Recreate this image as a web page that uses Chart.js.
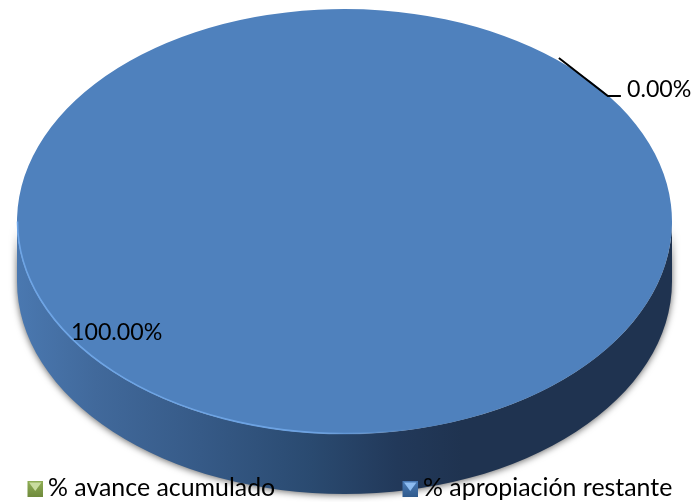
<!DOCTYPE html>
<html><head><meta charset="utf-8">
<style>html,body{margin:0;padding:0;background:#fff}canvas{display:block}</style>
<script src="https://cdn.jsdelivr.net/npm/chart.js@4"></script>
</head><body><canvas id="c" width="694" height="502"></canvas>
<script>
const categories = ['% avance acumulado', '% apropiación restante'];
const values = [0, 100];
const sliceColors = ['#9bbb59', '#4f81bd'];
const markerTones = [['#c8dc9e','#8fae55','#6f8a3c'], ['#8dbcf0','#4a7ab5','#2f5a8c']];

const STRETCH = 327.5 / 212.5, DEPTH = 60, RADIUS = 212.5;
const LABEL_FONT = '23.2px Lato, Carlito, sans-serif';
const LEGEND_FONT = '24.9px Lato, Carlito, sans-serif';

function pct(i){ const t = values.reduce((a,b)=>a+b,0); return (values[i]/t*100).toFixed(2)+'%'; }

const tilt3d = {
  id: 'tilt3d',
  beforeDatasetsDraw(chart){
    const a = chart.getDatasetMeta(0).data[1], ctx = chart.ctx;
    const rx = a.outerRadius * STRETCH, ry = a.outerRadius;
    ctx.save();
    const g = ctx.createLinearGradient(a.x-rx,0,a.x+rx,0);
    g.addColorStop(0,'#4a78b0'); g.addColorStop(.12,'#41699b'); g.addColorStop(.28,'#365a87');
    g.addColorStop(.45,'#2a4a70'); g.addColorStop(.58,'#22395a'); g.addColorStop(.68,'#1f3350'); g.addColorStop(1,'#1f3350');
    ctx.shadowColor='rgba(0,0,0,.6)'; ctx.shadowBlur=7; ctx.shadowOffsetY=1;
    ctx.fillStyle=g;
    ctx.beginPath();
    ctx.ellipse(a.x,a.y+DEPTH,rx,ry,0,0,Math.PI);
    ctx.ellipse(a.x,a.y,rx,ry,0,Math.PI,0,true);
    ctx.closePath(); ctx.fill();
    ctx.restore();
  },
  beforeDatasetDraw(chart){
    const a = chart.getDatasetMeta(0).data[1], ctx = chart.ctx;
    ctx.save(); ctx.translate(a.x,0); ctx.scale(STRETCH,1); ctx.translate(-a.x,0);
  },
  afterDatasetDraw(chart){ chart.ctx.restore(); },
  afterDatasetsDraw(chart){
    const meta = chart.getDatasetMeta(0), a = meta.data[1], z = meta.data[0], ctx = chart.ctx;
    const rx = a.outerRadius * STRETCH, ry = a.outerRadius;
    ctx.save();
    const rim = ctx.createLinearGradient(a.x-rx,0,a.x+rx,0);
    rim.addColorStop(0,'rgba(110,165,230,1)'); rim.addColorStop(.45,'rgba(110,165,230,.9)'); rim.addColorStop(.6,'rgba(110,165,230,0)'); rim.addColorStop(1,'rgba(110,165,230,0)');
    ctx.strokeStyle=rim; ctx.lineWidth=1.6;
    ctx.beginPath(); ctx.ellipse(a.x,a.y,rx-.5,ry-.5,0,0,Math.PI); ctx.stroke();
    const sx = a.x + Math.cos(z.startAngle)*rx*1.01, sy = a.y + Math.sin(z.startAngle)*ry*1.01;
    ctx.strokeStyle='#000'; ctx.lineWidth=2;
    ctx.beginPath(); ctx.moveTo(sx,sy); ctx.lineTo(sx+49,sy+38); ctx.lineTo(sx+62,sy+38); ctx.stroke();
    ctx.fillStyle='#000'; ctx.font=LABEL_FONT; ctx.textBaseline='alphabetic'; ctx.textAlign='left';
    ctx.fillText(pct(0),627,97);
    ctx.fillText(pct(1),71,340);
    ctx.font=LEGEND_FONT;
    const xs=[27.5,402.5];
    categories.forEach((t,i)=>{
      const x=xs[i], y=481, w=15.5, h=16, c=markerTones[i];
      const g=ctx.createLinearGradient(0,y,0,y+h);
      g.addColorStop(0,c[1]); g.addColorStop(1,c[2]);
      ctx.fillStyle=g; ctx.fillRect(x,y,w,h);
      ctx.fillStyle=c[0];
      ctx.beginPath(); ctx.moveTo(x+1.5,y+1.5); ctx.lineTo(x+w-1.5,y+1.5); ctx.lineTo(x+w/2,y+h*.62); ctx.closePath(); ctx.fill();
      ctx.fillStyle='#000';
      ctx.fillText(t,x+20.5,496);
    });
    ctx.restore();
  }
};

new Chart(document.getElementById('c'),{
  type:'pie',
  data:{labels:categories,datasets:[{data:values,backgroundColor:sliceColors,borderWidth:0,clip:false,radius:RADIUS,rotation:40.4}]},
  options:{
    responsive:false,animation:false,devicePixelRatio:1,
    layout:{padding:{left:0,right:5,top:0,bottom:59}},
    plugins:{legend:{display:false},tooltip:{enabled:false}}
  },
  plugins:[tilt3d]
});
</script></body></html>
